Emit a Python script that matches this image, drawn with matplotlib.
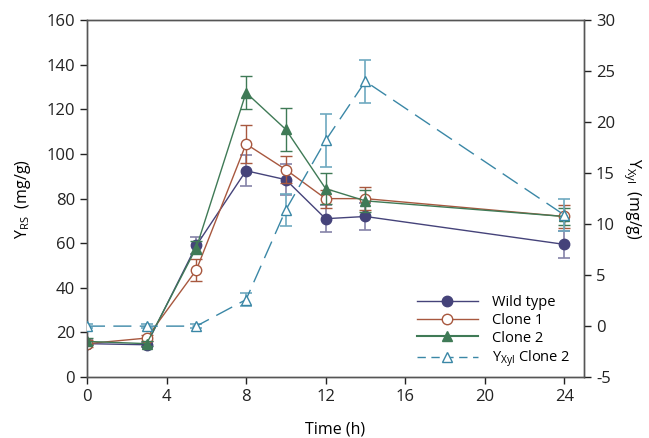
import matplotlib
matplotlib.use("Agg")
import matplotlib.pyplot as plt
from matplotlib.lines import Line2D

plt.rcParams['font.family'] = ['Open Sans', 'DejaVu Sans']
plt.rcParams['axes.unicode_minus'] = False

time = [0, 3, 5.5, 8, 10, 12, 14, 24]
wild = [15, 14.5, 59, 92.5, 88.5, 71, 72, 59.5]
wild_err = [1.5, 1.0, 4, 7, 7, 6, 6, 6]
clone1 = [15, 17.5, 48, 104.5, 93, 80, 80, 72]
clone1_err = [1.5, 1.5, 5, 8.5, 6, 4, 5, 5]
clone2 = [16, 15, 58, 127.5, 111, 84.5, 79, 72]
clone2_err = [1.5, 1.0, 3, 7.5, 9.5, 7, 5, 4]
xyl = [0, 0, 0, 2.6, 11.4, 18.2, 24.0, 10.9]
xyl_err = [0.2, 0.2, 0.2, 0.6, 1.6, 2.6, 2.1, 1.6]

c_wild = '#45437a'
c_c1 = '#a8583f'
c_c2 = '#3f7a56'
c_xyl = '#3a87a6'

fig = plt.figure(figsize=(6.49, 4.38), dpi=100)
ax = fig.add_axes([0.134, 0.139, 0.766, 0.815])
ax2 = ax.twinx()

ms = 7.5
dash = (13, 6)
ax.errorbar(time, wild, yerr=wild_err, color=c_wild, ecolor='#8583a8', lw=1, elinewidth=1.2,
            capsize=4.5, capthick=1.2, marker='o', ms=ms, mfc=c_wild, mec=c_wild, zorder=3)
ax.errorbar(time, clone1, yerr=clone1_err, color=c_c1, ecolor=c_c1, lw=1, elinewidth=1.0,
            capsize=4.5, capthick=1.0, marker='o', ms=ms, mfc='white', mec=c_c1, zorder=4)
ax.errorbar(time, clone2, yerr=clone2_err, color=c_c2, ecolor=c_c2, lw=1, elinewidth=1.0,
            capsize=4.5, capthick=1.0, marker='^', ms=ms, mfc=c_c2, mec=c_c2, zorder=5)
ax2.errorbar(time, xyl, yerr=xyl_err, color=c_xyl, ecolor='#6ea9c0', lw=1, elinewidth=1.2,
             capsize=4.5, capthick=1.2, marker='^', ms=ms, mfc='white', mec=c_xyl,
             dashes=dash, zorder=3)

ax.set_xlim(0, 25)
ax.set_ylim(0, 160)
ax2.set_ylim(-5, 30)
ax.set_xticks([0, 4, 8, 12, 16, 20, 24])
ax.set_yticks(range(0, 161, 20))
ax2.set_yticks(range(-5, 31, 5))

for a in (ax, ax2):
    a.tick_params(direction='out', length=5, width=1, labelsize=12, colors='#222222')
    for s in a.spines.values():
        s.set_color('#555555')
        s.set_linewidth(1)

ax.set_xlabel('Time (h)', fontsize=11.5, labelpad=12)
ax.set_ylabel(r'Y$_{\mathregular{RS}}$  (mg/g)', fontsize=11.5, labelpad=10)
ax2.set_ylabel(r'Y$_{\mathregular{Xyl}}$  (mg/g)', fontsize=11.5, rotation=270, labelpad=20)

handles = [
    Line2D([], [], color=c_wild, lw=1, marker='o', ms=ms, mfc=c_wild, mec=c_wild),
    Line2D([], [], color=c_c1, lw=1, marker='o', ms=ms, mfc='white', mec=c_c1),
    Line2D([], [], color=c_c2, lw=1.5, marker='^', ms=ms, mfc=c_c2, mec=c_c2),
    Line2D([], [], color=c_xyl, lw=1, marker='^', ms=ms, mfc='white', mec=c_xyl, dashes=(6, 4)),
]
labels = ['Wild type', 'Clone 1', 'Clone 2', r'Y$_{\mathregular{Xyl}}$ Clone 2']
ax2.legend(handles, labels, loc='lower right', bbox_to_anchor=(1.0, -0.015), frameon=False,
           fontsize=10.5, handlelength=4.2, handletextpad=1.0, labelspacing=0.2)

fig.savefig('out.png', dpi=100)
